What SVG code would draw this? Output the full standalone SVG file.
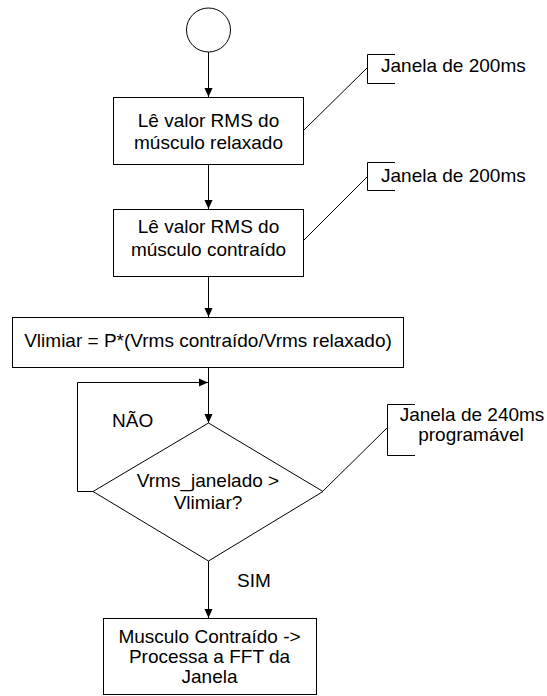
<svg xmlns="http://www.w3.org/2000/svg" width="547" height="696" viewBox="0 0 547 696">
<style>
.s{fill:#fff;stroke:#000;stroke-width:1}
.l{fill:none;stroke:#000;stroke-width:1}
text{font-family:"Liberation Sans",Arial,sans-serif;font-size:19px;fill:#000}
.c{text-anchor:middle}
</style>
<defs>
<marker id="ah" markerWidth="10" markerHeight="10" refX="9" refY="5" orient="auto" markerUnits="userSpaceOnUse">
<path d="M0,1 L9,5 L0,9 Z" fill="#000"/>
</marker>
</defs>
<rect width="547" height="696" fill="#fff"/>
<g id="connectors">
<line class="l" x1="208.5" y1="52" x2="208.5" y2="97" marker-end="url(#ah)"/>
<line class="l" x1="208.5" y1="165" x2="208.5" y2="209" marker-end="url(#ah)"/>
<line class="l" x1="208.5" y1="277" x2="208.5" y2="317" marker-end="url(#ah)"/>
<line class="l" x1="208.5" y1="367" x2="208.5" y2="423" marker-end="url(#ah)"/>
<polyline class="l" points="93,491.5 77.5,491.5 77.5,382.5 208,382.5" marker-end="url(#ah)"/>
<line class="l" x1="208.5" y1="561" x2="208.5" y2="618" marker-end="url(#ah)"/>
<line class="l" x1="304" y1="130" x2="367" y2="68"/>
<line class="l" x1="304" y1="240" x2="367" y2="177"/>
<line class="l" x1="323" y1="491" x2="387" y2="428"/>
</g>
<g id="start"><circle class="s" cx="208.5" cy="30" r="22"/></g>
<g id="box1">
<rect class="s" x="113.5" y="97.5" width="190" height="67"/>
<text class="c" x="208.5" y="127">Lê valor RMS do</text>
<text class="c" x="208.5" y="149">músculo relaxado</text>
</g>
<g id="note1">
<polyline class="l" points="395,54.5 367.5,54.5 367.5,83.5 395,83.5"/>
<text x="381" y="72">Janela de 200ms</text>
</g>
<g id="box2">
<rect class="s" x="113.5" y="209.5" width="190" height="67"/>
<text class="c" x="208.5" y="233">Lê valor RMS do</text>
<text class="c" x="208.5" y="256">músculo contraído</text>
</g>
<g id="note2">
<polyline class="l" points="395,162.5 367.5,162.5 367.5,190.5 395,190.5"/>
<text x="381" y="182">Janela de 200ms</text>
</g>
<g id="box3">
<rect class="s" x="12.5" y="317.5" width="391" height="50"/>
<text class="c" x="208" y="347">Vlimiar = P*(Vrms contraído/Vrms relaxado)</text>
</g>
<g id="decision">
<polygon class="s" points="208.5,423 323,491.5 208.5,561 93,491.5"/>
<text class="c" x="208" y="487">Vrms_janelado &gt;</text>
<text class="c" x="208" y="509">Vlimiar?</text>
</g>
<g id="note3">
<polyline class="l" points="415,404.5 387.5,404.5 387.5,455.5 415,455.5"/>
<text class="c" x="472" y="421">Janela de 240ms</text>
<text class="c" x="471" y="441">programável</text>
</g>
<g id="labels">
<text x="112" y="427">NÃO</text>
<text x="237" y="587">SIM</text>
</g>
<g id="box4">
<rect class="s" x="103.5" y="618.5" width="213" height="76"/>
<text class="c" x="209.5" y="643">Musculo Contraído -&gt;</text>
<text class="c" x="209.5" y="663">Processa a FFT da</text>
<text class="c" x="209.5" y="683">Janela</text>
</g>
</svg>
